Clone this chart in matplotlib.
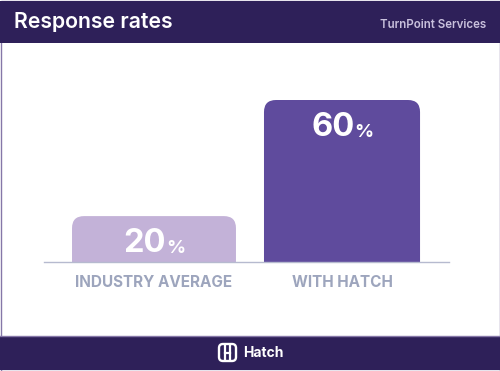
import matplotlib
matplotlib.use('Agg')
import matplotlib.pyplot as plt
from matplotlib.patches import FancyBboxPatch, Rectangle

categories = ['INDUSTRY AVERAGE', 'WITH HATCH']
value_labels = ['20', '60']
bar_heights = [17, 60]  # drawn heights in the picture, not to scale with the labels
bar_colors = ['#c3b2d8', '#5f4b9d']
bar_widths = [0.872, 0.83]

dark = '#2e2059'
edge = '#8577a8'
font = 'Inter'

fig = plt.figure(figsize=(5, 3.71), dpi=100, facecolor='white')

# pixel canvas for header, footer and logo
bg = fig.add_axes([0, 0, 1, 1])
bg.set_xlim(0, 500)
bg.set_ylim(371, 0)
bg.axis('off')
bg.add_patch(Rectangle((0.5, 0.5), 499, 370, fc='white', ec=edge, lw=1))
bg.add_patch(Rectangle((0, 1), 500, 41.5, fc=dark, ec='none'))
bg.add_patch(Rectangle((0, 336), 500, 34, fc=dark, ec='none'))
bg.plot([0, 500], [335.5, 335.5], color=edge, lw=1)
bg.text(14, 22.5, 'Response rates', color='white', fontsize=15.3, fontweight='semibold',
        family=font, ha='left', va='center')
bg.text(486, 25, 'TurnPoint Services', color='#c9c1dd', fontsize=8.3, fontweight='semibold',
        family=font, ha='right', va='center')

# logo
bg.add_patch(FancyBboxPatch((219, 344), 17, 17, boxstyle='round,pad=0,rounding_size=4',
                            fc=dark, ec='white', lw=1.7))
bg.plot([225, 225], [344, 361], color='white', lw=1.6, solid_capstyle='butt')
bg.plot([230, 230], [344, 361], color='white', lw=1.6, solid_capstyle='butt')
bg.plot([225, 230], [352.5, 352.5], color='white', lw=1.6)
bg.text(243, 353, 'Hatch', color='white', fontsize=10, fontweight='bold',
        family=font, ha='left', va='center')

# chart, baseline at y=262
ax = fig.add_axes([44 / 500, 1 - 262 / 371, 405 / 500, 162 / 371])
ax.set_xlim(-0.585, 1.569)
ax.set_ylim(0, 60)
ax.patch.set_alpha(0)
for s in ['top', 'left', 'right']:
    ax.spines[s].set_visible(False)
ax.spines['bottom'].set_color('#b6bacf')
ax.spines['bottom'].set_linewidth(1)
ax.set_yticks([])
ax.set_xticks(range(len(categories)))
ax.set_xticklabels(categories, color='#9da5bd', fontsize=11, fontweight='bold', family=font)
ax.tick_params(axis='x', length=0, pad=9.5)

px_x = 1 / 188
px_y = 60 / 162
for i, h in enumerate(bar_heights):
    w = bar_widths[i]
    # box runs below the baseline so only the top corners show rounded
    ax.add_patch(FancyBboxPatch((i - w / 2, -5), w, h + 5,
                                boxstyle=f'round,pad=0,rounding_size={12 * px_x}',
                                mutation_aspect=px_y / px_x, fc=bar_colors[i], ec='none',
                                zorder=2))
    y_text = h - 27 * px_y
    ax.annotate(value_labels[i], (i, y_text), xytext=(-6.5, 0), textcoords='offset points',
                color='white', fontsize=23.5, fontweight='bold', family=font,
                ha='center', va='center', zorder=3)
    ax.annotate('%', (i, y_text), xytext=(16, -4), textcoords='offset points',
                color='white', fontsize=13.5, fontweight='bold', family=font,
                ha='center', va='center', zorder=3)

fig.savefig('out.png', dpi=100)
